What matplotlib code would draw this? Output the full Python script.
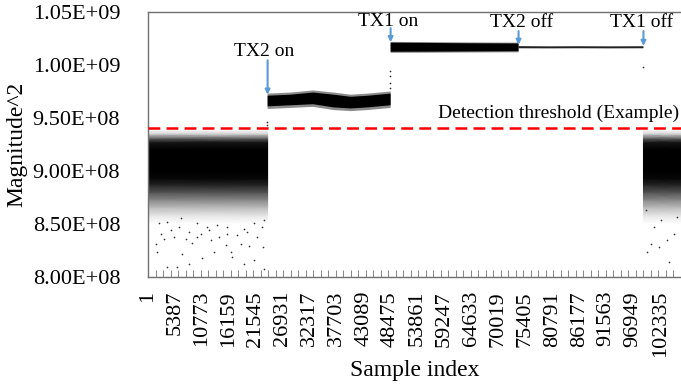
import matplotlib
matplotlib.use("Agg")
import matplotlib.pyplot as plt
import numpy as np
from matplotlib.colors import LinearSegmentedColormap
from matplotlib.ticker import FuncFormatter, FixedLocator, MultipleLocator

plt.rcParams['font.family'] = ['Liberation Serif', 'DejaVu Serif']
plt.rcParams['lines.scale_dashes'] = False

# ---------------- data ----------------
x_tick_labels = [1, 5387, 10773, 16159, 21545, 26931, 32317, 37703, 43089, 48475,
                 53861, 59247, 64633, 70019, 75405, 80791, 86177, 91563, 96949, 102335]
x_max = 106500
y_min, y_max = 8.0e8, 1.05e9
threshold = 9.41e8

# event sample indices
event_names = ["TX2 on", "TX1 on", "TX2 off", "TX1 off"]
event_x = [23900, 48480, 74040, 99000]
event_arrow_top = [1.0044e9, 1.0348e9, 1.0320e9, 1.0320e9]
event_arrow_tip = [9.72e8, 1.0215e9, 1.0190e9, 1.0180e9]
event_text_x = [23300, 47900, 74700, 98600]
event_text_y = [1.0130e9, 1.0410e9, 1.0400e9, 1.0400e9]

# noise-only segments (no transmitter): [start, end]
noise_segments = [(1, 23900), (99000, 106500)]
# point density of the noise cloud at magnitude levels (0 = empty, 1 = solid)
noise_levels = [8.50e8, 8.58e8, 8.66e8, 8.73e8, 8.80e8, 8.87e8, 8.93e8, 9.00e8,
                9.20e8, 9.27e8, 9.31e8, 9.35e8, 9.39e8]
noise_density = [0.0, 0.10, 0.28, 0.48, 0.68, 0.86, 0.97, 1.0,
                 1.0, 0.92, 0.60, 0.18, 0.0]

# TX2-only segment envelope
tx2_x = [23900, 28500, 33000, 37100, 40500, 43900, 48480]
tx2_hi = [9.71e8, 9.72e8, 9.74e8, 9.72e8, 9.70e8, 9.71e8, 9.73e8]
tx2_lo = [9.61e8, 9.62e8, 9.63e8, 9.60e8, 9.59e8, 9.60e8, 9.62e8]

# TX1 + TX2 segment envelope
both_x = [48480, 56000, 64000, 74040]
both_hi = [1.0210e9, 1.0208e9, 1.0205e9, 1.0203e9]
both_lo = [1.0125e9, 1.0126e9, 1.0128e9, 1.0130e9]

# TX1-only segment envelope
tx1_x = [74040, 80000, 86000, 92000, 99000]
tx1_hi = [1.0178e9, 1.0176e9, 1.0177e9, 1.0176e9, 1.0177e9]
tx1_lo = [1.0158e9, 1.0157e9, 1.0158e9, 1.0157e9, 1.0158e9]

# isolated samples (tails and transitions)
out_x = [1500, 1830, 3840, 5840, 8160, 10840, 6840, 13160, 16500, 16840, 19160, 21160,
         23160, 23040, 20160, 18500, 15500, 12500, 9840, 8840, 7500, 5160, 3160, 2500,
         4500, 6160, 8160, 10500, 12160, 14160, 15840, 17840, 19840, 21840, 22840, 2160,
         3840, 6500, 9840, 11840, 13840, 15840, 19160, 21160, 23160,
         99450, 101110, 103790, 100450, 102110, 104110, 105110, 99790, 105790, 102450,
         48375, 48375, 48375, 48375, 23850, 23850, 99000]
out_y = [8.315e8, 8.236e8, 8.093e8, 8.093e8, 8.119e8, 8.182e8, 8.220e8, 8.236e8, 8.236e8,
         8.188e8, 8.119e8, 8.163e8, 8.078e8, 8.283e8, 8.289e8, 8.308e8, 8.299e8, 8.346e8,
         8.378e8, 8.321e8, 8.362e8, 8.378e8, 8.362e8, 8.410e8, 8.441e8, 8.473e8, 8.425e8,
         8.410e8, 8.441e8, 8.378e8, 8.410e8, 8.394e8, 8.425e8, 8.378e8, 8.473e8, 8.505e8,
         8.520e8, 8.552e8, 8.505e8, 8.473e8, 8.489e8, 8.473e8, 8.457e8, 8.505e8, 8.536e8,
         8.631e8, 8.473e8, 8.346e8, 8.315e8, 8.283e8, 8.140e8, 8.410e8, 8.235e8, 8.567e8,
         8.536e8,
         9.943e8, 9.896e8, 9.833e8, 9.786e8, 9.459e8, 9.437e8, 9.978e8]

# ---------------- figure ----------------
fig = plt.figure(figsize=(6.81, 3.86), dpi=100)
ax = fig.add_axes([148 / 681, 109 / 386, 533 / 681, 265 / 386])

wb = LinearSegmentedColormap.from_list("wb", ["#ffffff", "#000000"])
for (s, e) in noise_segments:
    X, Y = np.meshgrid([s, e], noise_levels)
    C = np.array([noise_density, noise_density]).T
    ax.pcolormesh(X, Y, C, shading='gouraud', cmap=wb, vmin=0, vmax=1,
                  rasterized=False, zorder=1)

ax.fill_between(tx2_x, [v - 2.5e6 for v in tx2_lo], [v + 2.0e6 for v in tx2_hi],
                facecolor='#8a8a8a', linewidth=0)
ax.fill_between(tx2_x, tx2_lo, tx2_hi, facecolor='black', linewidth=0)
ax.fill_between(both_x, [v - 1.0e6 for v in both_lo], [v + 0.8e6 for v in both_hi],
                facecolor='#8a8a8a', linewidth=0)
ax.fill_between(both_x, both_lo, both_hi, facecolor='black', linewidth=0)
ax.fill_between(tx1_x, tx1_lo, tx1_hi, facecolor='#222222', linewidth=0)

ax.scatter(out_x, out_y, s=1.5, color='#333333', linewidths=0, zorder=2)

# threshold
ax.axhline(threshold, color='#ff0000', lw=1.8, dashes=(8.5, 4.5), zorder=3)
ax.text(106050, 9.542e8, "Detection threshold (Example)", ha='right', va='center',
        fontsize=14)

# events
for name, ex, at, ap, tx, ty in zip(event_names, event_x, event_arrow_top, event_arrow_tip,
                                     event_text_x, event_text_y):
    ax.annotate("", xy=(ex, ap), xytext=(ex, at),
                arrowprops=dict(arrowstyle='-|>', color='#5b9bd5', lw=1.5,
                                mutation_scale=7, shrinkA=0, shrinkB=0))
    ax.text(tx, ty, name, ha='center', va='center', fontsize=14)

# axes
ax.set_xlim(0, x_max)
ax.set_ylim(y_min, y_max)
ax.xaxis.set_major_locator(FixedLocator(x_tick_labels))
ax.set_xticklabels([str(v) for v in x_tick_labels], rotation=90, fontsize=16)
ax.xaxis.set_minor_locator(MultipleLocator(1500))
ax.tick_params(axis='x', which='major', direction='in', length=0, pad=10)
ax.tick_params(axis='x', which='minor', direction='in', length=5, color='#707070')
ax.tick_params(axis='y', length=0, pad=20, labelsize=16)
ax.yaxis.set_major_formatter(FuncFormatter(lambda v, p: f"{v:.2E}"))
ax.set_yticks([8.0e8, 8.5e8, 9.0e8, 9.5e8, 1.0e9, 1.05e9])

for side in ['left', 'top', 'bottom']:
    ax.spines[side].set_color('#707070')
    ax.spines[side].set_linewidth(1.0)
ax.spines['right'].set_visible(False)

ax.set_xlabel("Sample index", fontsize=17, labelpad=2)
ax.set_ylabel("Magnitude^2", fontsize=17, labelpad=4)

fig.savefig("out.png", dpi=100)
